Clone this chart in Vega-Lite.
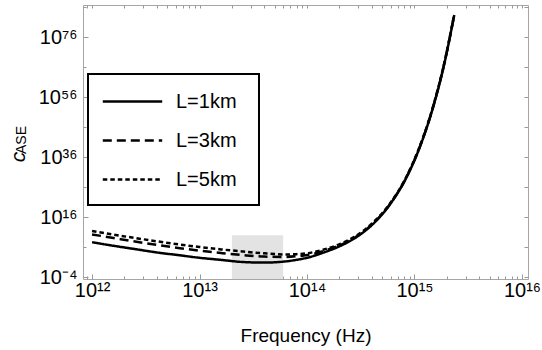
{
  "$schema": "https://vega.github.io/schema/vega-lite/v6.json",
  "width": 445,
  "height": 274,
  "autosize": "none",
  "padding": {"left": 83, "top": 5, "right": 14, "bottom": 71},
  "config": {
    "font": "Liberation Sans",
    "view": {"stroke": "#a6a6a6", "strokeWidth": 1},
    "legend": {"strokeWidth": 2},
    "axis": {"domain": false, "grid": false, "tickColor": "#999999", "labelColor": "black", "labelFont": "Liberation Sans", "titleFont": "Liberation Sans", "titleColor": "black", "titleFontWeight": "normal"}
  },
  "datasets": {
    "curves": [
      {"f": 1e12, "c": 5.012e7, "L": "L=1km"},
      {"f": 1.585e12, "c": 3.162e6, "L": "L=1km"},
      {"f": 2.512e12, "c": 2.512e5, "L": "L=1km"},
      {"f": 3.981e12, "c": 1.995e4, "L": "L=1km"},
      {"f": 6.31e12, "c": 2512, "L": "L=1km"},
      {"f": 1e13, "c": 316.2, "L": "L=1km"},
      {"f": 1.585e13, "c": 63.1, "L": "L=1km"},
      {"f": 2.512e13, "c": 12.59, "L": "L=1km"},
      {"f": 3.981e13, "c": 7.943, "L": "L=1km"},
      {"f": 6.31e13, "c": 19.95, "L": "L=1km"},
      {"f": 7.943e13, "c": 63.1, "L": "L=1km"},
      {"f": 1e14, "c": 316.2, "L": "L=1km"},
      {"f": 1.413e14, "c": 1.585e4, "L": "L=1km"},
      {"f": 1.995e14, "c": 1.995e6, "L": "L=1km"},
      {"f": 2.884e14, "c": 2.512e9, "L": "L=1km"},
      {"f": 3.981e14, "c": 1.995e13, "L": "L=1km"},
      {"f": 5.888e14, "c": 1.585e20, "L": "L=1km"},
      {"f": 8.511e14, "c": 3.981e29, "L": "L=1km"},
      {"f": 1.096e15, "c": 3.162e38, "L": "L=1km"},
      {"f": 1.479e15, "c": 1.995e52, "L": "L=1km"},
      {"f": 1.862e15, "c": 1e66, "L": "L=1km"},
      {"f": 2.344e15, "c": 2.512e83, "L": "L=1km"},
      {"f": 1e12, "c": 1.995e10, "L": "L=3km"},
      {"f": 1.585e12, "c": 1.259e9, "L": "L=3km"},
      {"f": 2.512e12, "c": 7.943e7, "L": "L=3km"},
      {"f": 3.981e12, "c": 6.31e6, "L": "L=3km"},
      {"f": 6.31e12, "c": 6.31e5, "L": "L=3km"},
      {"f": 1e13, "c": 7.943e4, "L": "L=3km"},
      {"f": 1.585e13, "c": 1.259e4, "L": "L=3km"},
      {"f": 2.512e13, "c": 2512, "L": "L=3km"},
      {"f": 3.981e13, "c": 794.3, "L": "L=3km"},
      {"f": 6.31e13, "c": 631, "L": "L=3km"},
      {"f": 7.943e13, "c": 1000, "L": "L=3km"},
      {"f": 1e14, "c": 2512, "L": "L=3km"},
      {"f": 1.413e14, "c": 5.012e4, "L": "L=3km"},
      {"f": 1.995e14, "c": 3.981e6, "L": "L=3km"},
      {"f": 2.884e14, "c": 3.981e9, "L": "L=3km"},
      {"f": 3.981e14, "c": 3.162e13, "L": "L=3km"},
      {"f": 5.888e14, "c": 1.995e20, "L": "L=3km"},
      {"f": 8.511e14, "c": 5.012e29, "L": "L=3km"},
      {"f": 1.096e15, "c": 3.981e38, "L": "L=3km"},
      {"f": 1.479e15, "c": 2.512e52, "L": "L=3km"},
      {"f": 1.862e15, "c": 1.259e66, "L": "L=3km"},
      {"f": 2.344e15, "c": 3.162e83, "L": "L=3km"},
      {"f": 1e12, "c": 2.512e11, "L": "L=5km"},
      {"f": 1.585e12, "c": 1.585e10, "L": "L=5km"},
      {"f": 2.512e12, "c": 1.259e9, "L": "L=5km"},
      {"f": 3.981e12, "c": 1e8, "L": "L=5km"},
      {"f": 6.31e12, "c": 1e7, "L": "L=5km"},
      {"f": 1e13, "c": 1.259e6, "L": "L=5km"},
      {"f": 1.585e13, "c": 1.995e5, "L": "L=5km"},
      {"f": 2.512e13, "c": 3.981e4, "L": "L=5km"},
      {"f": 3.981e13, "c": 1e4, "L": "L=5km"},
      {"f": 6.31e13, "c": 3981, "L": "L=5km"},
      {"f": 7.943e13, "c": 5012, "L": "L=5km"},
      {"f": 1e14, "c": 1e4, "L": "L=5km"},
      {"f": 1.413e14, "c": 1.585e5, "L": "L=5km"},
      {"f": 1.995e14, "c": 1e7, "L": "L=5km"},
      {"f": 2.884e14, "c": 7.943e9, "L": "L=5km"},
      {"f": 3.981e14, "c": 6.31e13, "L": "L=5km"},
      {"f": 5.888e14, "c": 3.162e20, "L": "L=5km"},
      {"f": 8.511e14, "c": 7.943e29, "L": "L=5km"},
      {"f": 1.096e15, "c": 6.31e38, "L": "L=5km"},
      {"f": 1.479e15, "c": 3.981e52, "L": "L=5km"},
      {"f": 1.862e15, "c": 1.995e66, "L": "L=5km"},
      {"f": 2.344e15, "c": 3.981e83, "L": "L=5km"}
    ],
    "shade": [{"f1": 2e13, "f2": 6e13, "c1": 1e10, "c2": 1e-8}],
    "ytitle": [
      {"f": 8.24e11, "c": 1.26e36, "t": "c"}
    ],
    "ytitle2": [
      {"f": 8.24e11, "c": 5.9e41, "t": "ASE"}
    ]
  },
  "layer": [
    {
      "data": {"name": "shade"},
      "mark": {"type": "rect", "color": "#e3e3e3", "clip": true},
      "encoding": {
        "x": {"field": "f1", "type": "quantitative", "scale": {"type": "log", "domain": [8.24e11, 1.138e16], "nice": false},
          "axis": {"orient": "bottom", "values": [9e11, 2e12, 3e12, 4e12, 5e12, 6e12, 7e12, 8e12, 9e12, 2e13, 3e13, 4e13, 5e13, 6e13, 7e13, 8e13, 9e13, 2e14, 3e14, 4e14, 5e14, 6e14, 7e14, 8e14, 9e14, 2e15, 3e15, 4e15, 5e15, 6e15, 7e15, 8e15, 9e15], "labels": false, "tickSize": -3, "title": null}},
        "x2": {"field": "f2"},
        "y": {"field": "c1", "type": "quantitative", "scale": {"type": "log", "domain": [2.69e-5, 5.89e86], "nice": false},
          "axis": {"orient": "left", "values": [1e6, 1e26, 1e46, 1e66, 1e86], "labels": false, "tickSize": -3, "title": null}},
        "y2": {"field": "c2"}
      }
    },
    {
      "data": {"name": "curves"},
      "mark": {"type": "line", "color": "black", "strokeWidth": 2.5, "interpolate": "monotone", "clip": true},
      "encoding": {
        "x": {"field": "f", "type": "quantitative", "scale": {"type": "log", "domain": [8.24e11, 1.138e16], "nice": false},
          "axis": {"orient": "bottom", "values": [1e12, 1e13, 1e14, 1e15, 1e16], "tickSize": -5, "labelFontSize": 20, "labelPadding": 6, "labelFlush": false,
            "labelExpr": "'10' + (round(log(datum.value)/LN10) < 0 ? '⁻' : '') + (abs(round(log(datum.value)/LN10)) >= 10 ? substring('⁰¹²³⁴⁵⁶⁷⁸⁹', floor(abs(round(log(datum.value)/LN10))/10), floor(abs(round(log(datum.value)/LN10))/10)+1) : '') + substring('⁰¹²³⁴⁵⁶⁷⁸⁹', abs(round(log(datum.value)/LN10))%10, abs(round(log(datum.value)/LN10))%10+1)",
            "title": "Frequency (Hz)", "titleFontSize": 19, "titleY": 62, "titleBaseline": "alphabetic"}},
        "y": {"field": "c", "type": "quantitative", "scale": {"type": "log", "domain": [2.69e-5, 5.89e86], "nice": false},
          "axis": {"orient": "left", "values": [1e-4, 1e16, 1e36, 1e56, 1e76], "tickSize": -5, "labelFontSize": 20, "labelPadding": 11, "labelFlush": false,
            "labelExpr": "'10' + (round(log(datum.value)/LN10) < 0 ? '⁻' : '') + (abs(round(log(datum.value)/LN10)) >= 10 ? substring('⁰¹²³⁴⁵⁶⁷⁸⁹', floor(abs(round(log(datum.value)/LN10))/10), floor(abs(round(log(datum.value)/LN10))/10)+1) : '') + substring('⁰¹²³⁴⁵⁶⁷⁸⁹', abs(round(log(datum.value)/LN10))%10, abs(round(log(datum.value)/LN10))%10+1)",
            "title": null}},
        "strokeDash": {"field": "L", "type": "nominal",
          "scale": {"domain": ["L=1km", "L=3km", "L=5km"], "range": [[1, 0], [9, 5], [4.5, 3]]},
          "legend": {"orient": "none", "legendX": 5, "legendY": 69, "strokeColor": "black", "fillColor": "white", "padding": 15,
            "title": "\u2800", "titleOrient": "right", "titleFontSize": 9, "titlePadding": 0,
            "symbolType": "M-2.7,0L2.7,0", "symbolSize": 484, "symbolOffset": 17, "symbolStrokeWidth": 2.5, "symbolStrokeColor": "black", "symbolFillColor": "transparent",
            "labelFontSize": 20, "labelOffset": 31, "rowPadding": 16, "labelColor": "black", "labelFont": "Liberation Sans"}}
      }
    },
    {
      "data": {"name": "ytitle"},
      "mark": {"type": "text", "angle": 270, "fontSize": 21, "fontStyle": "italic", "align": "center", "baseline": "alphabetic", "dy": -58, "color": "black"},
      "encoding": {
        "x": {"field": "f", "type": "quantitative", "scale": {"type": "log", "domain": [8.24e11, 1.138e16], "nice": false},
          "axis": {"orient": "top", "values": [9e11, 1e12, 2e12, 3e12, 4e12, 5e12, 6e12, 7e12, 8e12, 9e12, 1e13, 2e13, 3e13, 4e13, 5e13, 6e13, 7e13, 8e13, 9e13, 1e14, 2e14, 3e14, 4e14, 5e14, 6e14, 7e14, 8e14, 9e14, 1e15, 2e15, 3e15, 4e15, 5e15, 6e15, 7e15, 8e15, 9e15, 1e16], "labels": false, "tickSize": -3, "title": null}},
        "y": {"field": "c", "type": "quantitative", "scale": {"type": "log", "domain": [2.69e-5, 5.89e86], "nice": false},
          "axis": {"orient": "right", "values": [1e-4, 1e6, 1e16, 1e26, 1e36, 1e46, 1e56, 1e66, 1e76, 1e86], "labels": false, "tickSize": -4, "title": null}},
        "text": {"field": "t"}
      }
    },
    {
      "data": {"name": "ytitle2"},
      "mark": {"type": "text", "angle": 270, "fontSize": 14, "align": "center", "baseline": "alphabetic", "dy": -57, "color": "black"},
      "encoding": {
        "x": {"field": "f", "type": "quantitative", "axis": null},
        "y": {"field": "c", "type": "quantitative", "axis": null},
        "text": {"field": "t"}
      }
    }
  ],
  "resolve": {"axis": {"x": "independent", "y": "independent"}}
}
